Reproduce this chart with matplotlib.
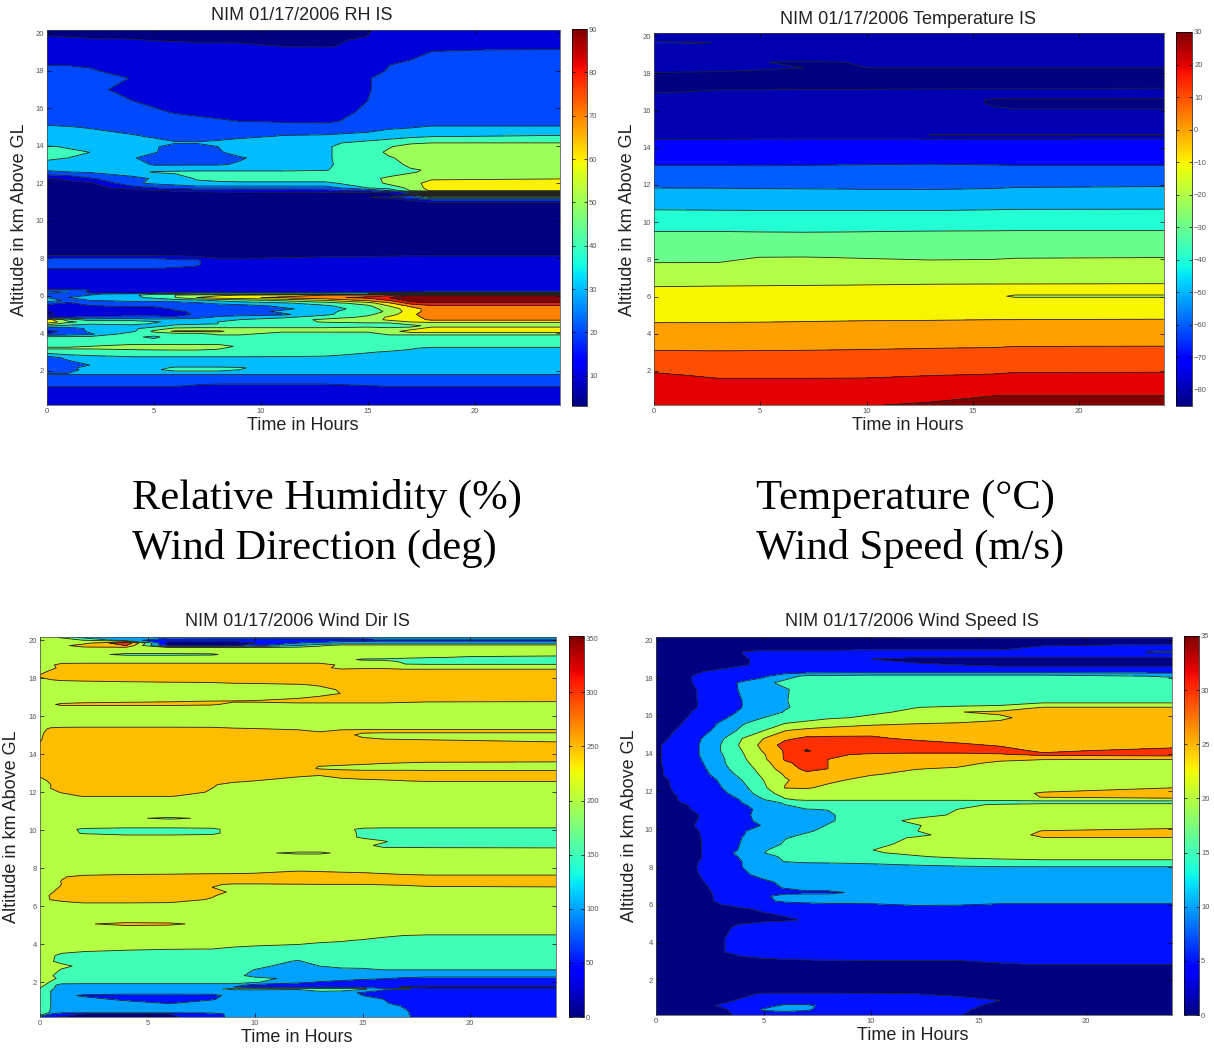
"""Four NIM time-height contour panels (RH, temperature, wind dir, wind speed)."""

import matplotlib
matplotlib.use("Agg")
import matplotlib.pyplot as plt
import numpy as np
from matplotlib.cm import ScalarMappable
from matplotlib.colors import Normalize

fig_w, fig_h = 1214, 1048

# --- relative humidity ---
rh_hours = [0, 1, 2, 4, 5, 6, 7, 8, 9, 11, 13, 15, 16, 17, 18, 24]
rh_alt = [20.2, 19.85, 19.6, 19.3, 19.1, 18.3, 18.0, 17.6, 17.0, 16.4, 15.8, 15.3, 15.0, 14.5, 14.15,
          13.95, 13.65, 13.35, 13.0, 12.7, 12.6, 12.25, 12.0, 11.75, 11.6, 11.5, 11.43, 11.37, 11.31,
          11.25, 11.15, 11.05, 10.9, 8.15, 8.0, 7.9, 7.65, 7.4, 7.3, 6.4, 6.3, 6.2, 6.14, 6.09, 6.03,
          5.9, 5.75, 5.6, 5.45, 5.3, 5.15, 5.0, 4.85, 4.72, 4.6, 4.5, 4.4, 4.25, 4.1, 3.95, 3.8, 3.5,
          3.3, 3.2, 3.0, 2.85, 2.7, 2.3, 2.15, 2.05, 1.82, 1.72, 1.2, 1.0, 0.1]
rh_values = [
    [8, 8, 8, 8, 8, 8, 8, 8, 8, 8, 8, 9, 14, 15, 15, 15],
    [10, 9, 8, 8, 8, 8, 8, 8, 8, 8, 8, 10, 14, 15, 15, 15],
    [14, 13, 12, 11, 10, 9, 8, 8, 8, 8, 8, 12, 15, 15, 15, 15],
    [15, 15, 15, 15, 15, 15, 15, 14, 13, 10, 9, 13, 15, 15, 15, 15],
    [15, 15, 15, 15, 15, 15, 15, 15, 15, 15, 15, 15, 15, 16, 19.5, 21],
    [20, 19.5, 19, 15, 15, 15, 15, 15, 15, 15, 15, 15, 19.9, 22, 25, 25],
    [25, 24, 21, 16, 15, 15, 15, 15, 15, 15, 15, 15, 21, 25, 25, 25],
    [25, 25, 25, 19.5, 15, 15, 15, 15, 15, 15, 15, 19, 25, 25, 25, 25],
    [25, 25, 24, 15, 15, 15, 15, 15, 15, 15, 15, 19, 25, 25, 25, 25],
    [25, 25, 25, 20, 17, 15, 15, 15, 15, 15, 15, 20, 25, 25, 25, 25],
    [25, 25, 25, 25, 22, 19, 16, 15, 15, 15, 15, 22, 25, 25, 25, 25],
    [25, 25, 25, 25, 25, 25, 25, 22, 20, 19, 18, 24, 25, 25, 25, 25],
    [32, 30.5, 29, 26, 25, 25, 25, 25, 25, 25, 25, 26, 28, 29, 31, 31],
    [35, 35, 35, 31, 29, 26, 25, 25, 28, 30.5, 31, 33, 36, 38, 39.5, 41],
    [35, 35, 35, 35, 33, 31, 31, 33, 34, 35, 38, 43, 45, 48, 50, 50],
    [41, 39, 36, 35, 32, 24, 24, 30, 34, 36, 39, 45, 49, 55, 55, 55],
    [45, 42, 40, 35, 31, 25, 25, 29, 33, 36, 39, 45, 52, 55, 55, 55],
    [43, 40, 36, 31, 25, 25, 25, 25, 29, 35, 39, 45, 49, 53, 55, 55],
    [35, 35, 35, 34, 29, 29, 29, 29, 31, 35, 39, 44, 48, 51, 55, 55],
    [30.5, 31, 32, 35, 36, 37, 38, 38, 38, 38, 39.5, 45, 48, 49.5, 50.5, 51],
    [29, 30, 31, 36, 41, 42, 42, 42, 42, 42, 42, 43, 45, 49, 52, 55],
    [9, 12, 19, 27, 31, 35, 41, 43, 45, 45, 45, 47, 52, 54, 58, 59.5],
    [8, 8, 8, 28, 32, 35, 38, 38, 38, 38, 38, 45, 52, 55, 65, 65],
    [6, 6, 6, 15, 20, 22, 25, 25, 25, 25, 25, 40, 45, 52, 65, 65],
    [6, 6, 6, 6, 8, 12, 14, 15, 16, 17, 18, 21, 30, 50, 62, 62],
    [6, 6, 6, 6, 6, 6, 7, 8, 8, 9, 9, 9, 10, 15, 4, 4],
    [6, 6, 6, 6, 6, 6, 6, 6, 6, 6, 6, 6, 8, 25, 65, 65],
    [6, 6, 6, 6, 6, 6, 6, 6, 6, 6, 6, 7, 6, 6, 4, 4],
    [6, 6, 6, 6, 6, 6, 6, 6, 6, 6, 6, 7, 8, 25, 60, 60],
    [6, 6, 6, 6, 6, 6, 6, 6, 6, 6, 6, 9, 20, 25, 45, 45],
    [6, 6, 6, 6, 6, 6, 6, 6, 6, 6, 6, 6, 8, 15, 25, 25],
    [6, 6, 6, 6, 6, 6, 6, 6, 6, 6, 6, 6, 6, 8, 15, 15],
    [6, 6, 6, 6, 6, 6, 6, 6, 6, 6, 6, 6, 6, 6, 6, 6],
    [9, 9, 9, 9, 9, 9, 9, 9, 9, 9, 9, 9, 9, 9, 9, 9],
    [20.5, 20.5, 20.5, 20.5, 20.5, 15, 12, 9.8, 9.8, 10.2, 11, 12, 13, 14, 15, 15],
    [22, 22, 22, 22, 22, 21, 21, 15, 15, 15, 15, 15, 15, 15, 15, 15],
    [24, 24, 24, 24, 24, 23, 21, 15, 15, 15, 15, 15, 15, 15, 15, 15],
    [19, 19, 19, 19, 19, 18, 17, 15, 15, 15, 15, 15, 15, 15, 15, 15],
    [15, 15, 15, 15, 15, 15, 15, 15, 15, 15, 15, 15, 15, 15, 15, 15],
    [15, 15, 15, 15, 15, 15, 15, 15, 15, 15, 15, 15, 15, 15, 15, 15],
    [22, 22, 20, 15, 15, 15, 15, 15, 15, 15, 15, 15, 15, 15, 15, 15],
    [34, 30, 18, 15, 15, 15, 16, 16, 16, 16, 16, 16, 16, 16, 18, 18],
    [30, 28, 20, 18, 20, 25, 30, 30, 30, 30, 30, 35, 45, 60, 90, 90],
    [26, 25, 28, 35, 38, 35, 35, 35, 35, 35, 35, 30, 20, 10, 5, 5],
    [26, 26, 30, 38, 45, 50, 55, 58, 60, 65, 70, 75, 78, 85, 90, 90],
    [30, 30, 35, 38, 42, 50, 60, 65, 68, 72, 78, 82, 85, 88, 88, 88],
    [35, 28, 30, 33, 33, 35, 38, 42, 45, 52, 60, 72, 80, 87, 88, 88],
    [25, 18, 25, 25, 25, 25, 28, 32, 35, 38, 45, 55, 68, 83, 84, 84],
    [15, 15, 19, 22, 22, 22, 25, 25, 25, 32, 38, 48, 60, 72, 79, 79],
    [15, 15, 15, 15, 15, 22, 25, 23, 22, 28, 35, 45, 55, 65, 75, 75],
    [9, 15, 15, 15, 15, 18, 22, 25, 25, 32, 38, 45, 52, 65, 75, 75],
    [9, 12, 15, 15, 15, 15, 22, 25, 25, 28, 38, 48, 55, 68, 75, 75],
    [15, 20, 22, 25, 25, 22, 25, 32, 35, 38, 45, 52, 62, 65, 75, 75],
    [65, 45, 35, 35, 32, 35, 36, 38, 40, 45, 52, 55, 62, 65, 72, 72],
    [68, 52, 47, 47, 42, 36, 36, 40, 42, 45, 51, 55, 55, 60, 62, 62],
    [55, 45, 42, 45, 38, 38, 38, 40, 42, 45, 45, 45, 45, 55, 55, 55],
    [42, 38, 32, 35, 35, 42, 45, 45, 45, 45, 45, 45, 45, 45, 55, 55],
    [25, 25, 32, 38, 45, 52, 52, 52, 52, 52, 52, 55, 52, 55, 65, 65],
    [18, 22, 32, 38, 52, 62, 62, 62, 55, 52, 52, 52, 55, 65, 65, 65],
    [20, 25, 28, 47, 45, 45, 45, 52, 52, 45, 45, 45, 52, 52, 52, 52],
    [42, 42, 42, 42, 38, 45, 45, 45, 45, 45, 45, 45, 45, 45, 45, 45],
    [45, 45, 45, 45, 45, 45, 45, 45, 45, 45, 45, 45, 45, 45, 45, 45],
    [48, 48, 50, 55, 55, 55, 55, 55, 48, 45, 45, 45, 45, 45, 45, 45],
    [52, 52, 52, 55, 55, 55, 55, 52, 45, 45, 45, 45, 45, 42, 36, 36],
    [42, 42, 42, 42, 44, 45, 45, 45, 45, 45, 43, 41, 39, 36, 36, 36],
    [38, 40, 42, 45, 45, 45, 45, 45, 45, 44, 42, 38, 35, 35, 35, 35],
    [25, 33, 35, 38, 38, 38, 38, 38, 38, 38, 38, 36, 35, 35, 35, 35],
    [25, 25, 30, 35, 35, 35, 35, 35, 35, 35, 35, 35, 35, 35, 35, 35],
    [25, 27, 35, 35, 36, 42, 42, 42, 41, 35, 35, 35, 35, 35, 35, 35],
    [25, 25, 35, 35, 38, 44, 44, 44, 40, 35, 35, 35, 35, 35, 35, 35],
    [31, 31, 31, 31, 31, 31, 31, 31, 31, 31, 31, 31, 31, 31, 31, 31],
    [25, 25, 25, 25, 25, 25, 25, 25, 25, 25, 25, 25, 25, 25, 25, 25],
    [21, 21, 21, 21, 21, 21, 19.5, 19, 19, 19, 19, 20, 21, 21, 21, 21],
    [15, 15, 15, 15, 15, 15, 15, 15, 15, 15, 15, 15, 15, 15, 15, 15],
    [15, 15, 15, 15, 15, 15, 15, 15, 15, 15, 15, 15, 15, 15, 15, 15],
]
rh_levels = [0, 10, 20, 30, 40, 50, 60, 70, 80, 85, 100]
rh_bar_ticks = [10, 20, 30, 40, 50, 60, 70, 80, 90]

# --- temperature ---
temp_hours = [0, 3, 5, 7, 9, 10, 13, 16, 17, 24]
temp_alt = [20.3, 19.9, 19.65, 19.4, 18.9, 18.6, 18.3, 18.0, 17.5, 17.0, 16.75, 16.6, 16.4, 14.85, 14.7,
            14.45, 13.05, 11.85, 10.7, 9.5, 8.1, 7.8, 6.6, 6.15, 6.02, 5.9, 4.7, 3.2, 1.75, 0.66, 0.1]
temp_values = [
    [-75, -75, -75, -75, -75, -75, -75, -75, -75, -75],
    [-75, -75, -75, -75, -75, -75, -75, -75, -75, -75],
    [-68, -70.2, -75, -75, -75, -75, -75, -75, -75, -75],
    [-75, -75, -75, -75, -75, -75, -75, -75, -75, -75],
    [-78, -78, -78, -78, -78, -78, -78, -78, -78, -78],
    [-78, -78, -79.9, -80.4, -80, -78, -78, -78, -78, -78],
    [-79, -79.3, -79.6, -80, -80, -80, -80, -80, -80, -80],
    [-80.2, -80.3, -80.6, -80.8, -80.8, -80.8, -80.8, -80.8, -80.8, -80.8],
    [-81, -81, -81, -81, -81, -81, -81, -81, -81, -81],
    [-80.3, -79.7, -79.7, -79.6, -79.6, -79.6, -79.5, -79.4, -79.4, -79.3],
    [-78, -78, -78, -78, -78, -78, -78, -78, -78, -78],
    [-77, -77, -77, -77, -77, -77, -77, -80.5, -81, -81],
    [-77, -77, -77, -77, -77, -77, -77, -80.5, -81, -81],
    [-73, -73, -73, -73, -73, -73, -75, -76, -76, -76],
    [-72, -72, -72, -72, -72, -72, -80.1, -80.2, -80.2, -80.2],
    [-70, -69.9, -69.8, -69.7, -69.5, -69.5, -69.3, -69.2, -69.1, -69],
    [-60, -60, -60.2, -60, -59.8, -59.7, -59.5, -59.8, -60, -60],
    [-50.1, -50.2, -50.4, -50.5, -50.6, -50.8, -50.9, -50.3, -49.9, -49.4],
    [-40.3, -40.5, -40.6, -40.6, -40.6, -40.7, -40.7, -40.3, -40.1, -40],
    [-30, -30, -30.2, -30.3, -30.2, -30.1, -29.8, -29.7, -29.6, -29.6],
    [-21.2, -21, -19.9, -19.8, -20.1, -20.3, -20.8, -20.5, -20.2, -20],
    [-19.9, -19.9, -18.8, -18.8, -18.7, -18.5, -19, -19, -18.7, -18.4],
    [-10.4, -10.2, -10.1, -10, -9.9, -9.8, -9.5, -9.4, -9.4, -9.3],
    [-7.8, -7.7, -7.6, -7.5, -7.4, -7.3, -7.3, -9, -9.6, -9.6],
    [-7.2, -7.1, -7, -6.9, -6.8, -6.7, -6.6, -9.4, -10.4, -10.4],
    [-6.6, -6.5, -6.4, -6.3, -6.2, -6.1, -6, -6, -9.6, -9.6],
    [-0.7, -0.6, -0.5, -0.3, -0.1, 0, 0.1, 0.3, 0.5, 0.7],
    [9.2, 9.2, 9.3, 9.4, 9.6, 9.7, 10.1, 10.4, 10.8, 10.9],
    [21.3, 19, 19, 19, 19, 19, 20, 20.6, 21.2, 21.3],
    [26.5, 26.5, 26.5, 26.5, 27, 27.5, 28.5, 30, 30, 30],
    [29.5, 29.5, 29.6, 29.6, 29.8, 30, 31, 33, 33, 33],
]
temp_levels = [-90, -80, -70, -60, -50, -40, -30, -20, -10, 0, 10, 20, 30, 40]
temp_bar_ticks = [-80, -70, -60, -50, -40, -30, -20, -10, 0, 10, 20, 30]

# --- wind direction ---
dir_hours = [0, 0.5, 1, 2, 4, 6, 8, 9, 10, 12, 13, 14, 15, 16, 17, 18, 24]
dir_alt = [20.3, 20.17, 20.0, 19.85, 19.72, 19.6, 19.38, 19.25, 19.14, 19.1, 18.98, 18.88, 18.7, 18.55, 18.4,
           18.1, 18.0, 17.85, 17.65, 17.4, 17.2, 17.0, 16.78, 16.62, 16.45, 15.5, 15.35, 15.18, 15.02,
           14.75, 14.55, 14.0, 13.7, 13.55, 13.35, 13.25, 13.1, 12.9, 12.6, 12.4, 12.2, 12.0, 11.8, 11.65,
           10.72, 10.63, 10.54, 10.2, 10.05, 9.85, 9.65, 9.4, 9.2, 9.1, 9.0, 8.9, 8.8, 8.7, 7.85, 7.7, 7.55,
           7.3, 7.15, 7.0, 6.75, 6.55, 6.35, 6.2, 6.05, 5.2, 5.07, 4.9, 4.6, 4.45, 4.2, 3.9, 3.6, 3.4,
           3.1, 2.85, 2.65, 2.35, 2.2, 2.0, 1.85, 1.75, 1.65, 1.55, 1.45, 1.3, 1.1, 0.9, 0.75, 0.42, 0.33, 0.1]
dir_values = [
    [225, 215, 190, 130, 120, 120, 120, 120, 120, 120, 120, 120, 120, 120, 120, 120, 120],
    [225, 215, 190, 130, 120, 120, 120, 120, 120, 120, 120, 120, 120, 120, 120, 120, 120],
    [225, 225, 225, 200, 125, 60, 70, 70, 70, 75, 75, 80, 85, 90, 90, 90, 90],
    [225, 225, 225, 230, 345, 25, 25, 25, 50, 100, 110, 120, 120, 120, 120, 120, 120],
    [225, 225, 235, 275, 300, 40, 40, 45, 90, 150, 190, 225, 225, 225, 225, 225, 225],
    [225, 225, 225, 235, 235, 220, 220, 215, 215, 220, 225, 225, 225, 225, 225, 225, 225],
    [225, 225, 225, 225, 225, 225, 225, 225, 225, 225, 225, 225, 225, 225, 225, 225, 225],
    [225, 225, 225, 225, 185, 185, 190, 225, 225, 225, 225, 225, 225, 225, 225, 225, 225],
    [225, 225, 225, 225, 225, 225, 225, 225, 225, 225, 225, 225, 225, 225, 215, 205, 190],
    [225, 225, 225, 225, 225, 225, 225, 225, 225, 225, 225, 225, 225, 225, 215, 205, 175],
    [225, 225, 225, 225, 225, 225, 225, 225, 225, 225, 225, 225, 190, 185, 175, 175, 175],
    [225, 225, 225, 225, 225, 225, 225, 225, 225, 225, 225, 225, 225, 225, 185, 175, 175],
    [225, 240, 270, 275, 275, 275, 275, 275, 275, 275, 275, 240, 240, 225, 205, 205, 205],
    [225, 230, 270, 275, 275, 275, 275, 275, 275, 275, 275, 230, 240, 240, 225, 225, 225],
    [225, 255, 275, 275, 275, 275, 275, 275, 275, 275, 275, 275, 275, 275, 275, 275, 275],
    [260, 275, 275, 275, 275, 275, 275, 275, 275, 275, 275, 275, 275, 275, 275, 275, 275],
    [240, 265, 275, 275, 275, 275, 275, 275, 275, 275, 275, 275, 275, 275, 275, 275, 275],
    [225, 235, 245, 250, 255, 260, 265, 270, 270, 275, 275, 275, 275, 275, 275, 275, 275],
    [225, 225, 225, 225, 225, 225, 225, 235, 238, 245, 255, 275, 275, 275, 275, 275, 275],
    [225, 225, 225, 225, 225, 225, 225, 225, 225, 225, 235, 255, 275, 275, 275, 275, 275],
    [225, 225, 225, 225, 225, 225, 225, 225, 225, 225, 225, 251, 275, 275, 275, 275, 275],
    [225, 225, 225, 225, 225, 225, 228, 228, 230, 240, 258, 275, 275, 275, 275, 275, 275],
    [225, 225, 225, 240, 245, 248, 252, 253, 255, 275, 275, 275, 275, 275, 262, 255, 252],
    [225, 240, 262, 262, 262, 262, 255, 240, 235, 225, 225, 225, 225, 225, 225, 225, 225],
    [225, 225, 225, 225, 225, 225, 225, 225, 225, 225, 225, 225, 225, 225, 225, 225, 225],
    [225, 225, 225, 225, 225, 225, 225, 225, 225, 225, 225, 225, 225, 225, 225, 225, 225],
    [225, 260, 270, 275, 275, 275, 270, 255, 250, 235, 232, 240, 245, 245, 245, 245, 245],
    [232, 275, 275, 275, 275, 275, 275, 275, 275, 275, 250, 265, 262, 262, 262, 262, 262],
    [240, 275, 275, 275, 275, 275, 275, 275, 275, 275, 275, 275, 235, 225, 225, 225, 225],
    [245, 275, 275, 275, 275, 275, 275, 275, 275, 275, 275, 275, 265, 255, 253, 251, 240],
    [255, 275, 275, 275, 275, 275, 275, 275, 275, 275, 275, 275, 275, 275, 275, 275, 260],
    [260, 275, 275, 275, 275, 275, 275, 275, 275, 275, 275, 275, 275, 275, 275, 275, 275],
    [258, 275, 275, 275, 275, 275, 275, 275, 275, 275, 275, 272, 272, 272, 272, 272, 272],
    [258, 275, 275, 275, 275, 275, 275, 275, 275, 275, 275, 270, 262, 255, 250, 245, 240],
    [255, 275, 275, 275, 275, 275, 275, 275, 275, 275, 248, 240, 235, 225, 225, 225, 225],
    [255, 275, 275, 275, 275, 275, 275, 275, 275, 275, 245, 235, 225, 225, 225, 225, 225],
    [258, 275, 275, 275, 275, 275, 275, 275, 275, 275, 275, 268, 265, 265, 265, 262, 260],
    [255, 275, 275, 275, 275, 275, 275, 275, 275, 258, 251, 262, 275, 275, 275, 275, 275],
    [240, 255, 275, 275, 275, 275, 270, 260, 250, 232, 235, 240, 240, 245, 250, 255, 255],
    [230, 250, 275, 275, 275, 275, 255, 235, 225, 225, 225, 225, 225, 225, 225, 225, 228],
    [225, 250, 265, 275, 275, 275, 250, 225, 225, 225, 225, 225, 225, 225, 225, 225, 225],
    [225, 230, 255, 270, 275, 275, 245, 225, 225, 225, 225, 225, 225, 225, 225, 225, 225],
    [225, 225, 225, 255, 255, 255, 225, 225, 225, 225, 225, 225, 225, 225, 225, 225, 225],
    [225, 225, 225, 225, 225, 225, 225, 225, 225, 225, 225, 225, 225, 225, 225, 225, 225],
    [225, 225, 225, 225, 225, 225, 225, 225, 225, 225, 225, 225, 225, 225, 225, 225, 225],
    [225, 225, 225, 225, 225, 175, 225, 225, 225, 225, 225, 225, 225, 225, 225, 225, 225],
    [225, 225, 225, 225, 225, 225, 225, 225, 225, 225, 225, 225, 225, 225, 225, 225, 225],
    [225, 225, 225, 225, 225, 225, 225, 225, 225, 225, 225, 225, 225, 225, 225, 225, 225],
    [225, 225, 225, 190, 175, 175, 185, 225, 225, 225, 225, 225, 185, 175, 175, 175, 175],
    [225, 225, 225, 195, 175, 175, 185, 225, 225, 225, 225, 225, 190, 175, 175, 175, 175],
    [225, 225, 225, 225, 225, 225, 225, 225, 225, 225, 225, 225, 190, 175, 175, 175, 175],
    [225, 225, 225, 225, 225, 225, 225, 225, 225, 225, 225, 225, 225, 205, 175, 175, 175],
    [225, 225, 225, 225, 225, 225, 225, 225, 225, 225, 225, 225, 215, 185, 175, 175, 175],
    [225, 225, 225, 225, 225, 225, 225, 225, 225, 225, 225, 225, 225, 199, 199, 195, 190],
    [225, 225, 225, 225, 225, 225, 225, 225, 225, 225, 225, 225, 225, 225, 225, 225, 225],
    [225, 225, 225, 225, 225, 225, 225, 225, 225, 225, 225, 225, 225, 225, 225, 225, 225],
    [225, 225, 225, 225, 225, 225, 225, 225, 225, 175, 175, 225, 225, 225, 225, 225, 225],
    [225, 225, 225, 225, 225, 225, 225, 225, 225, 225, 225, 225, 225, 225, 225, 225, 225],
    [225, 225, 225, 225, 225, 225, 225, 225, 235, 250, 248, 245, 240, 235, 230, 225, 225],
    [225, 225, 225, 235, 245, 248, 252, 253, 255, 260, 260, 258, 258, 252, 245, 240, 240],
    [225, 225, 245, 265, 270, 270, 270, 270, 270, 270, 270, 270, 270, 270, 270, 265, 265],
    [225, 225, 252, 275, 275, 275, 275, 275, 275, 275, 275, 275, 275, 275, 275, 270, 270],
    [225, 230, 250, 275, 275, 275, 255, 245, 245, 248, 250, 250, 250, 255, 258, 262, 265],
    [225, 235, 255, 275, 275, 275, 250, 225, 225, 225, 225, 225, 225, 225, 235, 245, 248],
    [225, 245, 265, 275, 275, 275, 270, 240, 225, 225, 225, 225, 225, 225, 225, 225, 225],
    [225, 255, 270, 275, 275, 275, 255, 225, 225, 225, 225, 225, 225, 225, 225, 225, 225],
    [230, 252, 265, 275, 275, 275, 245, 225, 225, 225, 225, 225, 225, 225, 225, 225, 225],
    [225, 225, 240, 255, 255, 252, 225, 225, 225, 225, 225, 225, 225, 225, 225, 225, 225],
    [225, 225, 225, 225, 225, 225, 225, 225, 225, 225, 225, 225, 225, 225, 225, 225, 225],
    [225, 225, 225, 225, 225, 225, 225, 225, 225, 225, 225, 225, 225, 225, 225, 225, 225],
    [225, 225, 225, 240, 275, 265, 225, 225, 225, 225, 225, 225, 225, 225, 225, 225, 225],
    [225, 225, 225, 225, 225, 225, 225, 225, 225, 225, 225, 225, 225, 225, 225, 225, 225],
    [225, 225, 225, 225, 225, 225, 225, 225, 225, 225, 225, 225, 225, 225, 225, 225, 225],
    [225, 225, 225, 225, 225, 225, 225, 225, 225, 225, 225, 225, 225, 210, 198, 190, 190],
    [225, 225, 225, 225, 225, 225, 225, 225, 225, 225, 210, 205, 195, 180, 175, 175, 175],
    [225, 225, 225, 225, 225, 225, 225, 205, 199, 190, 185, 180, 175, 175, 175, 175, 175],
    [225, 225, 210, 199, 190, 180, 175, 175, 175, 175, 175, 175, 175, 175, 175, 175, 175],
    [225, 210, 185, 175, 175, 175, 175, 175, 175, 175, 175, 175, 175, 175, 175, 175, 175],
    [225, 205, 185, 175, 175, 175, 175, 175, 175, 145, 170, 175, 175, 175, 175, 175, 175],
    [225, 225, 215, 185, 175, 175, 175, 175, 165, 125, 150, 170, 172, 175, 175, 175, 175],
    [225, 225, 195, 175, 175, 175, 175, 175, 148, 125, 125, 130, 135, 150, 150, 150, 150],
    [225, 205, 180, 175, 175, 175, 175, 175, 125, 125, 125, 125, 125, 125, 125, 125, 125],
    [225, 215, 185, 175, 175, 175, 175, 175, 170, 130, 125, 120, 110, 102, 90, 75, 75],
    [225, 195, 175, 175, 175, 175, 175, 175, 155, 110, 95, 85, 75, 75, 75, 75, 75],
    [225, 170, 130, 125, 125, 125, 125, 125, 80, 75, 75, 75, 75, 75, 75, 75, 75],
    [205, 165, 125, 125, 125, 125, 125, 100, 75, 75, 75, 75, 75, 75, 40, 25, 25],
    [200, 160, 125, 125, 125, 125, 130, 170, 175, 160, 170, 170, 160, 110, 110, 70, 70],
    [190, 150, 125, 125, 125, 125, 125, 125, 125, 130, 160, 155, 125, 90, 75, 75, 75],
    [190, 150, 125, 125, 125, 125, 125, 125, 125, 125, 125, 115, 95, 75, 75, 75, 75],
    [190, 150, 125, 90, 75, 75, 80, 125, 125, 125, 125, 110, 100, 80, 75, 75, 75],
    [190, 150, 125, 125, 85, 75, 95, 125, 125, 125, 125, 125, 115, 100, 75, 75, 75],
    [190, 150, 125, 125, 125, 95, 125, 125, 125, 125, 125, 125, 125, 105, 80, 75, 75],
    [190, 150, 125, 125, 125, 125, 125, 125, 125, 125, 125, 125, 125, 115, 95, 75, 75],
    [190, 145, 125, 125, 125, 125, 125, 125, 125, 125, 125, 125, 125, 120, 105, 75, 75],
    [190, 100, 60, 50, 50, 50, 70, 125, 125, 125, 125, 125, 125, 120, 105, 75, 75],
    [25, 40, 45, 45, 45, 45, 60, 125, 125, 125, 125, 125, 125, 120, 110, 75, 75],
]
dir_levels = [0, 50, 100, 150, 200, 250, 300, 350, 400]
dir_bar_ticks = [0, 50, 100, 150, 200, 250, 300, 350]

# --- wind speed ---
speed_hours = [0, 1, 2, 3, 4, 5, 6, 7, 8, 10, 12, 14, 16, 18, 24]
speed_alt = [20.25, 20.15, 19.9, 19.7, 19.55, 19.37, 19.3, 19.15, 19.0, 18.7, 18.55, 18.35, 18.1, 17.75, 17.4,
             16.8, 16.45, 16.2, 15.9, 15.6, 15.25, 14.8, 14.45, 14.15, 13.95, 13.7, 13.5, 13.2, 12.9, 12.6,
             12.2, 11.9, 11.7, 11.55, 11.4, 11.3, 11.05, 10.75, 10.45, 10.2, 9.9, 9.7, 9.55, 9.2, 8.9, 8.75,
             8.55, 8.3, 8.0, 7.6, 7.2, 6.9, 6.65, 6.45, 6.2, 6.0, 5.8, 5.6, 5.2, 4.95, 4.8, 4.2, 3.5, 3.1,
             2.85, 2.6, 1.5, 1.3, 0.95, 0.65, 0.45, 0.1]
speed_values = [
    [2.5, 2.5, 2.5, 2.5, 2.5, 2.5, 2.5, 3, 3, 5, 5.5, 5.5, 5.5, 5.5, 5.5],
    [2.5, 2.5, 2.5, 2.5, 2.5, 2.5, 2.5, 3, 3, 5, 5.5, 5.5, 5.5, 5.5, 5.5],
    [2.5, 2.5, 2.5, 2.5, 2.5, 2.5, 2.5, 2.5, 2.5, 2.5, 2.5, 2.5, 2.5, 2.5, 2.5],
    [2.5, 2.5, 2.5, 2.5, 2.5, 2.5, 2.5, 2.5, 2.5, 2.5, 2.5, 3, 3.5, 5, 7],
    [2.5, 2.5, 2.5, 2.5, 3, 3.5, 3.5, 3.5, 3.5, 4, 4, 4, 4, 7, 7],
    [2.5, 2.5, 2.5, 2.5, 5, 7, 7, 7, 7, 7, 7, 7, 7, 8, 10.5],
    [2.5, 2.5, 2.5, 2.5, 5, 7, 7, 7, 7, 7, 7, 7, 7, 7, 7],
    [2.5, 2.5, 2.5, 2.5, 4.5, 7.5, 7.5, 7.5, 7.5, 7.5, 7, 7, 7, 7, 7],
    [2.5, 2.5, 2.5, 2.5, 4, 7, 7, 7, 7, 5, 3, 3, 3, 3, 3],
    [2.5, 2.5, 2.5, 3, 4.5, 6, 7, 7, 7, 7, 6, 5, 4, 4, 4],
    [2.5, 2.5, 2.5, 4, 6, 7, 7, 7, 7, 7, 7, 7, 6, 6, 6],
    [2.5, 2.5, 4.5, 6.5, 7, 7, 7, 7, 7.5, 7.5, 7.5, 7.5, 7.5, 7.5, 7.5],
    [2.5, 3, 6, 7, 7, 9, 13, 16, 16, 17, 17, 17, 17, 17, 14.5],
    [2.5, 3, 6, 8, 10.6, 13.5, 16.5, 17.5, 17.5, 17.5, 17.5, 17.5, 17.5, 17.5, 17.5],
    [2.5, 2.8, 5.3, 7.5, 10.6, 12.5, 14.5, 17, 17.5, 17.5, 17.5, 17.5, 17.5, 17.5, 17.5],
    [2.5, 3, 5.2, 7.5, 10, 12.5, 14.7, 17, 17.5, 17.5, 17.5, 17.5, 17.5, 17.5, 17.5],
    [2.5, 3, 5.2, 7.5, 10, 12.5, 14.7, 16, 17, 17.5, 19.9, 20.5, 21, 25.1, 25.1],
    [2.5, 3.5, 5.8, 8.2, 10.6, 13, 15.2, 17, 18, 19.5, 20.5, 24.8, 26, 28, 28],
    [2.5, 4, 6.3, 9, 12, 15, 17, 18.5, 19.5, 20.5, 21, 22, 24, 27.5, 28],
    [3, 4.5, 7, 10.5, 14.5, 17.5, 20, 21, 22, 24, 24.8, 25.3, 26, 27.5, 28],
    [3.5, 5.2, 8, 11.5, 16, 19.5, 24.5, 26, 27, 27.5, 27.5, 27.5, 28, 28, 28],
    [4, 5.8, 9.5, 14, 20, 25, 29, 31, 31, 31, 29, 28, 28, 28, 28],
    [4.5, 6.5, 10, 15, 21, 26.5, 32, 33, 33, 33, 33, 31, 29.5, 28, 28],
    [4.5, 6.5, 10, 15, 20, 25.5, 30.5, 35.5, 33, 33, 33, 33, 32, 29, 32],
    [4.5, 6.5, 10, 14.5, 19.5, 24.5, 30.5, 33, 31, 29, 28, 28, 29.5, 31, 32],
    [4.5, 6.5, 9.5, 14, 19, 24, 30.5, 33, 30, 28, 27.5, 27, 26, 25.2, 25.1],
    [4.5, 6.5, 9, 14, 18.5, 23, 29, 32, 30, 28, 27, 26.5, 24, 23, 23],
    [4.5, 6, 8.5, 13, 18, 21.5, 28, 31, 30, 27, 25.2, 24.5, 23, 23, 23],
    [4.5, 6, 8, 12, 16.5, 21, 25.5, 29, 29, 25.3, 24, 23, 23, 23, 23],
    [4, 5.7, 7.5, 10.5, 15, 20, 24.5, 27, 26, 23.5, 23, 23, 23, 23, 23],
    [4, 5.5, 7, 9.8, 13.5, 19, 25.2, 25.5, 24, 23, 23, 23, 23, 23, 24.9],
    [4, 5.2, 6.5, 9, 12, 18, 22, 22.5, 23, 23, 23, 23, 23, 25.5, 27.5],
    [3.5, 5, 6, 8, 11, 16, 20.5, 22, 22.5, 22.5, 22.5, 22.5, 22.5, 25.2, 27.5],
    [3.5, 5, 6, 7.5, 10.3, 14.5, 19.5, 20.5, 20.5, 20.5, 20.5, 20.5, 20.5, 21, 21],
    [3.5, 4.8, 5.8, 7, 10, 13, 15.5, 17, 17, 17, 17, 17, 18, 18, 18],
    [3.5, 4.6, 5.5, 6.5, 9.5, 12, 15, 16.5, 17.5, 17.5, 17.5, 19, 20.5, 22, 22],
    [3.5, 4.5, 5.3, 6.5, 8.5, 11.5, 14.8, 14.9, 15.1, 17.5, 18.5, 20, 22.5, 22.5, 22.5],
    [3, 4, 5, 6.5, 9, 11.5, 12.5, 13, 14.5, 17.5, 18.5, 20.5, 22.5, 22.5, 22.5],
    [3, 4, 5.1, 6.5, 9, 11, 12.5, 13.5, 14.5, 17.5, 21, 22.5, 22.5, 22.5, 22.5],
    [3, 4, 5.3, 7, 8.8, 10.2, 12.5, 13.5, 15.2, 17.5, 19.5, 22.5, 22.5, 22.5, 22.5],
    [3, 3.8, 5, 7, 9.5, 12, 12.5, 14.5, 16, 17.5, 19.8, 22, 22.5, 25.2, 27],
    [3, 3.8, 4.9, 7, 9.7, 12.5, 14, 15.5, 16.5, 17.5, 19, 21.5, 22.5, 26, 27.5],
    [3, 3.7, 4.8, 7, 10, 13, 14.8, 15.8, 17, 18.5, 20.3, 22, 22.5, 24.9, 24.9],
    [3, 3.7, 4.7, 7.5, 10.3, 13, 15.5, 17.5, 17.5, 19, 21, 22.5, 22.5, 22.5, 22.5],
    [2.8, 3.6, 4.6, 8, 10.5, 14.5, 17, 17.5, 18, 19.9, 22, 22.5, 22.5, 22.5, 22.5],
    [2.8, 3.5, 4.5, 8.5, 11, 14.9, 17, 17.5, 18, 19.5, 21, 22.5, 22.5, 22.5, 22.5],
    [2.5, 3.5, 4.5, 8, 10.5, 13, 16, 17, 17.5, 17.5, 19.5, 21, 22, 22, 22],
    [2.5, 3.5, 5, 7.5, 10, 12.5, 15.2, 15.8, 16, 16.5, 17, 17.5, 18, 19, 19],
    [2.5, 3.3, 5.2, 7.5, 10, 12, 12.5, 12.5, 12.5, 13, 14, 14.5, 14.8, 14.8, 14.8],
    [2.5, 3, 5, 7.5, 9.5, 10.8, 12.5, 12.5, 12.5, 12.5, 12.5, 12.5, 12.5, 12.5, 12.5],
    [2.5, 2.8, 4.5, 6.5, 8.5, 9.5, 10.5, 12.5, 12.5, 12.5, 12.5, 12.5, 12.5, 12.5, 12.5],
    [2.5, 2.7, 4.2, 6, 8, 9, 10.2, 12.5, 12.5, 12.5, 12.5, 12.5, 12.5, 12.5, 12.5],
    [2.5, 2.6, 3.8, 5.8, 7.5, 8.5, 8.5, 8.5, 8.5, 12.5, 12.5, 12.5, 12.5, 12.5, 12.5],
    [2.5, 2.6, 3.5, 5.8, 7.5, 9, 12, 12.5, 12.5, 12.5, 12.5, 12.5, 12.5, 12.5, 12.5],
    [2.5, 2.5, 3.5, 5.8, 7.2, 8.8, 11, 12, 12.5, 12.5, 12.5, 12.5, 12.5, 12.5, 12.5],
    [2.5, 2.5, 3, 4.8, 7, 7.5, 7.5, 8, 8.5, 9, 10.5, 10.3, 9, 9, 9],
    [2.5, 2.5, 2.5, 3.5, 4.5, 6, 7.5, 7.5, 7.5, 7.5, 7.5, 7.5, 7.5, 7.5, 7.5],
    [2.5, 2.5, 2.5, 2.5, 3.5, 5, 6, 7.5, 7.5, 7.5, 7.5, 7.5, 7.5, 7.5, 7.5],
    [2.5, 2.5, 2.5, 2.5, 2.5, 3, 4.2, 5.5, 7.5, 7.5, 7.5, 7.5, 7.5, 7.5, 7.5],
    [2.5, 2.5, 2.5, 3.5, 5.5, 7.5, 7.5, 7.5, 7.5, 7.5, 7.5, 7.5, 7.5, 7.5, 7.5],
    [2.5, 2.5, 2.5, 4, 6, 7.5, 7.5, 7.5, 7.5, 7.5, 7.5, 7.5, 7.5, 7.5, 7.5],
    [2.5, 2.5, 2.5, 4.5, 7, 7.5, 7.5, 7.5, 7.5, 7.5, 7.5, 7.5, 7.5, 7.5, 7.5],
    [2.5, 2.5, 2.5, 4.5, 7, 7.5, 7.5, 7.5, 7.5, 7.5, 7.5, 7.5, 7.5, 7.5, 7.5],
    [2.5, 2.5, 2.5, 2.5, 3.5, 4.5, 4.9, 5.2, 5.3, 5.5, 5.5, 5.5, 5.5, 5.5, 5.5],
    [2.5, 2.5, 2.5, 2.5, 2.5, 2.5, 2.5, 2.5, 2.5, 2.5, 2.5, 2.5, 4.8, 5.1, 5.1],
    [2.5, 2.5, 2.5, 2.5, 2.5, 2.5, 2.5, 2.5, 2.5, 2.5, 2.5, 2.5, 2.5, 2.5, 2.5],
    [2.5, 2.5, 2.5, 2.5, 2.5, 2.5, 2.5, 2.5, 2.5, 2.5, 2.5, 2.5, 2.5, 2.5, 2.5],
    [2.5, 2.5, 2.5, 2.5, 4, 5.5, 5.5, 5.5, 5.5, 5.3, 5, 4, 2.5, 2.5, 2.5],
    [2.5, 2.5, 3, 4, 5.5, 6, 7, 7, 7, 7, 7, 6.5, 5, 2.5, 2.5],
    [2.5, 2.5, 3.5, 5.5, 7, 8.5, 11, 11, 8.5, 7, 7, 6.2, 4, 2.5, 2.5],
    [2.5, 2.5, 2.7, 4, 7, 10.5, 11, 10.5, 8.5, 7, 6.5, 5.5, 4, 2.5, 2.5],
    [2.5, 2.5, 2.5, 3.5, 6, 7, 7, 7, 7, 6.5, 6, 5.2, 3, 2.5, 2.5],
]
speed_levels = [0, 5, 10, 15, 20, 25, 30, 35, 40]
speed_bar_ticks = [0, 5, 10, 15, 20, 25, 30, 35]

hour_ticks = [0, 5, 10, 15, 20]
alt_ticks = [2, 4, 6, 8, 10, 12, 14, 16, 18, 20]

captions = [
    ("Relative Humidity (%)", 132, 509),
    ("Wind Direction (deg)", 132, 559),
    ("Temperature (°C)", 756, 509),
    ("Wind Speed (m/s)", 756, 559),
]

panels = [
    {"title": "NIM 01/17/2006 RH IS", "hours": rh_hours, "alt": rh_alt, "values": rh_values,
     "levels": rh_levels, "bar_ticks": rh_bar_ticks, "bar_range": (3, 90),
     "ax": (47, 30, 560, 405), "bar": (572, 29, 587, 406),
     "title_xy": (302, 16), "xlabel_xy": (303, 425), "ylabel_xy": (20, 220)},
    {"title": "NIM 01/17/2006 Temperature IS", "hours": temp_hours, "alt": temp_alt, "values": temp_values,
     "levels": temp_levels, "bar_ticks": temp_bar_ticks, "bar_range": (-85, 30),
     "ax": (654, 33, 1164, 405), "bar": (1176, 32, 1192, 406),
     "title_xy": (908, 19), "xlabel_xy": (908, 425), "ylabel_xy": (627, 220)},
    {"title": "NIM 01/17/2006 Wind Dir IS", "hours": dir_hours, "alt": dir_alt, "values": dir_values,
     "levels": dir_levels, "bar_ticks": dir_bar_ticks, "bar_range": (0, 352),
     "ax": (40, 637, 556, 1017), "bar": (569, 636, 584, 1017),
     "title_xy": (297, 622), "xlabel_xy": (297, 1037), "ylabel_xy": (12, 827)},
    {"title": "NIM 01/17/2006 Wind Speed IS", "hours": speed_hours, "alt": speed_alt, "values": speed_values,
     "levels": speed_levels, "bar_ticks": speed_bar_ticks, "bar_range": (0, 35),
     "ax": (656, 637, 1172, 1015), "bar": (1184, 636, 1199, 1015),
     "title_xy": (912, 622), "xlabel_xy": (913, 1035), "ylabel_xy": (629, 826)},
]

plt.rcParams["font.family"] = ["Liberation Sans", "DejaVu Sans"]
fig = plt.figure(figsize=(fig_w / 100, fig_h / 100), dpi=100)


def box(left, top, right, bottom):
    return [left / fig_w, 1 - bottom / fig_h, (right - left) / fig_w, (bottom - top) / fig_h]


def place(xy):
    return xy[0] / fig_w, 1 - xy[1] / fig_h


for panel in panels:
    ax = fig.add_axes(box(*panel["ax"]))
    values = np.array(panel["values"], dtype=float)[::-1]
    alt = np.array(panel["alt"])[::-1]
    levels = panel["levels"]
    norm = Normalize(*panel["bar_range"], clip=True)
    # each band takes the jet colour of its lower level, as matlab contourf does
    fractions = np.array(norm(levels[:-1]))
    fractions[-1] = 1.0
    band_colors = plt.get_cmap("jet")(fractions)
    ax.contourf(panel["hours"], alt, values, levels=levels, colors=band_colors)
    ax.contour(panel["hours"], alt, values, levels=levels[1:-1], colors="#222222", linewidths=0.6,
               linestyles="solid")
    ax.set_xlim(0, 24)
    ax.set_ylim(0.17, 20.17)
    ax.set_xticks(hour_ticks)
    ax.set_yticks(alt_ticks)
    ax.tick_params(direction="in", length=3, width=0.5, labelsize=5.5, labelcolor="#555555", pad=2,
                   top=True, right=True)
    for spine in ax.spines.values():
        spine.set_linewidth(0.5)
        spine.set_color("#444444")

    cax = fig.add_axes(box(*panel["bar"]))
    bar = fig.colorbar(ScalarMappable(norm=Normalize(*panel["bar_range"]), cmap="jet"), cax=cax)
    bar.set_ticks(panel["bar_ticks"])
    bar.ax.tick_params(direction="in", length=2, width=0.5, labelsize=5.5, labelcolor="#555555", pad=1.5,
                       left=True, right=True)
    bar.outline.set_linewidth(0.5)

    x, y = place(panel["title_xy"])
    fig.text(x, y, panel["title"], ha="center", va="center", fontsize=13, color="#222222")
    x, y = place(panel["xlabel_xy"])
    fig.text(x, y, "Time in Hours", ha="center", va="center", fontsize=13, color="#222222")
    x, y = place(panel["ylabel_xy"])
    fig.text(x, y, "Altitude in km Above GL", ha="center", va="center", rotation=90, fontsize=13,
             color="#222222")

for label, px, py in captions:
    x, y = place((px, py))
    fig.text(x, y, label, family="Liberation Serif", fontsize=30.7, ha="left", va="baseline", color="black")

fig.savefig("out.png", dpi=100)
